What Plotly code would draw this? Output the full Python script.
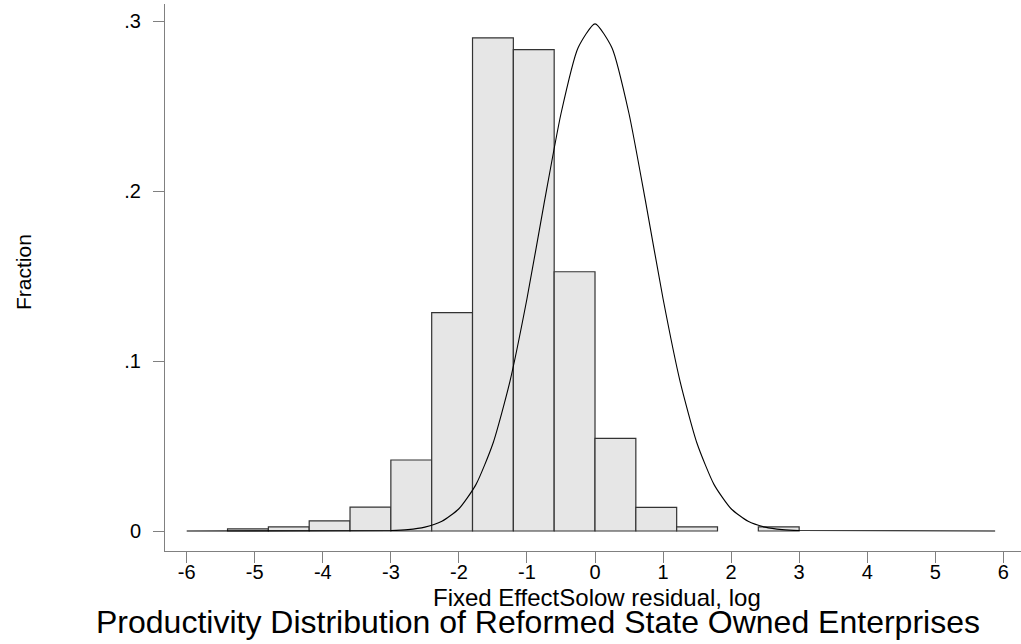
import plotly.graph_objects as go

# ---- data ----
bin_left = [-5.4, -4.8, -4.2, -3.6, -3.0, -2.4, -1.8, -1.2, -0.6, 0.0, 0.6, 1.2, 2.4]
fraction = [0.0012, 0.0024, 0.0060, 0.0141, 0.0418, 0.1285, 0.2903, 0.2834,
            0.1526, 0.0545, 0.0139, 0.0024, 0.0024]
bin_width = 0.6

curve_x = [-6.0, -3.0, -2.75, -2.5, -2.25, -2.0, -1.75, -1.5, -1.25, -1.0, -0.75,
           -0.5, -0.25, 0.0, 0.25, 0.5, 0.75, 1.0, 1.25, 1.5, 1.75, 2.0, 2.25,
           2.5, 2.75, 3.0, 5.88]
curve_y = [0.0, 0.0003, 0.0008, 0.0023, 0.0057, 0.0131, 0.0273, 0.0515, 0.0881,
           0.1367, 0.1924, 0.2456, 0.2843, 0.2985, 0.2843, 0.2456, 0.1924, 0.1367,
           0.0881, 0.0515, 0.0273, 0.0131, 0.0057, 0.0023, 0.0008, 0.0003, 0.0]

x_ticks = [-6, -5, -4, -3, -2, -1, 0, 1, 2, 3, 4, 5, 6]
x_tick_labels = ["-6", "-5", "-4", "-3", "-2", "-1", "0", "1", "2", "3", "4", "5", "6"]
y_ticks = [0, 0.1, 0.2, 0.3]
y_tick_labels = ["0", ".1", ".2", ".3"]

x_title = "Fixed EffectSolow residual, log"
y_title = "Fraction"
main_title = "Productivity Distribution of Reformed State Owned Enterprises"

FONT = "Liberation Sans, Arial, sans-serif"

bar_centers = [b + bin_width / 2 for b in bin_left]

fig = go.Figure()
fig.add_trace(go.Bar(
    x=bar_centers, y=fraction, width=bin_width,
    marker=dict(color="#e6e6e6", line=dict(color="#333333", width=1.2)),
    hoverinfo="skip",
))
fig.add_trace(go.Scatter(
    x=curve_x, y=curve_y, mode="lines",
    line=dict(color="#000000", width=1.1, shape="spline", smoothing=0.6),
    hoverinfo="skip",
))

W, H = 1021, 644
L, R, T, B = 165, 0, 4, 93
pw, ph = W - L - R, H - T - B

def px(xpix):
    return (xpix - L) / pw

def py(ypix):
    return (H - B - ypix) / ph

fig.update_layout(
    width=W, height=H, autosize=False,
    margin=dict(l=L, r=R, t=T, b=B, pad=0),
    plot_bgcolor="white", paper_bgcolor="white",
    showlegend=False, bargap=0,
    font=dict(family=FONT, color="black"),
    xaxis=dict(
        range=[-6.319, 6.260], tickvals=x_ticks, ticktext=x_tick_labels,
        showline=True, linecolor="#808080", linewidth=1,
        ticks="outside", ticklen=11, tickcolor="#808080", tickwidth=1,
        showgrid=False, zeroline=False, ticklabelstandoff=-8,
        tickfont=dict(family=FONT, size=20, color="black"),
    ),
    yaxis=dict(
        range=[-0.01177, 0.3102], tickvals=y_ticks, ticktext=y_tick_labels,
        showline=True, linecolor="#808080", linewidth=1,
        ticks="outside", ticklen=11, tickcolor="#808080", tickwidth=1,
        showgrid=False, zeroline=False, ticklabelstandoff=8,
        tickfont=dict(family=FONT, size=20, color="black"),
    ),
    annotations=[
        dict(text=x_title, x=px(597), y=py(597), xref="paper", yref="paper",
             xanchor="center", yanchor="middle", showarrow=False,
             font=dict(family=FONT, size=24, color="black")),
        dict(text=main_title, x=px(538), y=py(622), xref="paper", yref="paper",
             xanchor="center", yanchor="middle", showarrow=False,
             font=dict(family=FONT, size=32, color="black")),
        dict(text=y_title, x=px(23), y=py(272), xref="paper", yref="paper",
             xanchor="center", yanchor="middle", showarrow=False, textangle=-90,
             font=dict(family=FONT, size=21, color="black")),
    ],
)

fig.write_html("out.html", config={"displayModeBar": False, "staticPlot": True},
               post_script="document.body.style.margin='0';document.body.style.overflow='hidden';")
